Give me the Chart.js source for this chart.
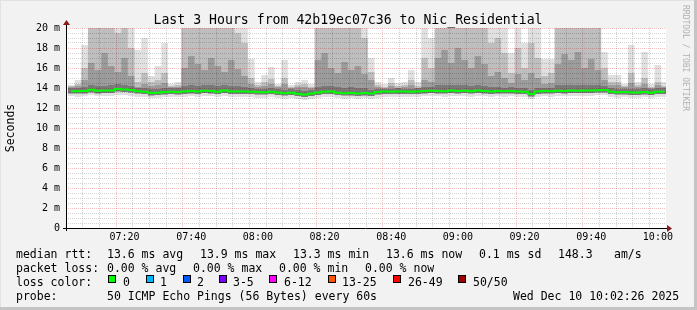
<!doctype html>
<html lang="en">
<head>
<meta charset="utf-8">
<title>Last 3 Hours from 42b19ec07c36 to Nic_Residential</title>
<script src="https://cdn.jsdelivr.net/npm/chart.js"></script>
<style>
html, body { margin: 0; padding: 0; background: #f2f2f2; }
canvas { display: block; }
</style>
</head>
<body>
<canvas id="myChart" width="697" height="310"></canvas>
<script>
// minutes after 07:00, one sample every 2 minutes
const times = [4,6,8,10,12,14,16,18,20,22,24,26,28,30,32,34,36,38,40,42,
  44,46,48,50,52,54,56,58,60,62,64,66,68,70,72,74,76,78,80,82,
  84,86,88,90,92,94,96,98,100,102,104,106,108,110,112,114,116,118,120,122,
  124,126,128,130,132,134,136,138,140,142,144,146,148,150,152,154,156,158,160,162,
  164,166,168,170,172,174,176,178,180,182];

// median rtt (ms)
const median = [13.68,13.68,13.70,13.82,13.72,13.74,13.76,13.90,13.84,13.80,
  13.68,13.62,13.50,13.52,13.60,13.62,13.60,13.66,13.70,13.66,
  13.72,13.70,13.62,13.74,13.66,13.64,13.66,13.62,13.60,13.58,
  13.62,13.55,13.48,13.52,13.42,13.34,13.44,13.56,13.62,13.64,
  13.52,13.48,13.50,13.46,13.50,13.44,13.60,13.64,13.62,13.66,
  13.64,13.62,13.66,13.70,13.72,13.70,13.68,13.74,13.70,13.72,
  13.68,13.74,13.70,13.66,13.70,13.68,13.70,13.66,13.62,13.40,
  13.66,13.70,13.68,13.72,13.70,13.74,13.72,13.76,13.74,13.78,
  13.80,13.62,13.58,13.60,13.54,13.56,13.60,13.52,13.62,13.62];

// smoke: ping distribution per sample (ms)
const pMin = [13.2,13.1,13.2,13.3,13.2,13.2,13.2,13.3,13.3,13.2,
  13.1,13.1,13.0,13.0,13.1,13.1,13.1,13.1,13.2,13.1,
  13.2,13.2,13.1,13.2,13.1,13.1,13.1,13.1,13.0,13.0,
  13.1,13.0,12.9,13.0,12.9,12.8,12.9,13.0,13.1,13.1,
  13.0,12.9,13.0,12.9,13.0,12.9,13.0,13.1,13.1,13.1,
  13.1,13.1,13.1,13.2,13.2,13.2,13.1,13.2,13.2,13.2,
  13.1,13.2,13.2,13.1,13.2,13.1,13.2,13.1,13.1,12.9,
  13.1,13.2,13.1,13.2,13.2,13.2,13.2,13.2,13.2,13.3,
  13.3,13.1,13.0,13.1,13.0,13.0,13.1,13.0,13.1,13.1];

const pLo = [13.45,13.45,13.45,13.55,13.45,13.5,13.5,13.65,13.6,13.55,
  13.45,13.4,13.25,13.3,13.35,13.4,13.35,13.4,13.45,13.4,
  13.5,13.45,13.4,13.5,13.4,13.4,13.4,13.4,13.35,13.35,
  13.4,13.3,13.25,13.3,13.2,13.1,13.2,13.3,13.4,13.4,
  13.3,13.25,13.25,13.2,13.25,13.2,13.35,13.4,13.4,13.4,
  13.4,13.4,13.4,13.45,13.5,13.45,13.45,13.5,13.45,13.5,
  13.45,13.5,13.45,13.4,13.45,13.45,13.45,13.4,13.4,13.15,
  13.4,13.45,13.45,13.5,13.45,13.5,13.5,13.5,13.5,13.55,
  13.55,13.4,13.35,13.35,13.3,13.3,13.35,13.3,13.4,13.4];

const pCore = [14.0,14.0,14.1,14.3,14.2,14.2,14.3,14.4,14.3,14.2,
  14.0,14.0,13.9,13.9,14.0,14.0,14.0,14.2,14.3,14.2,
  14.3,14.3,14.2,14.3,14.2,14.2,14.1,14.0,13.9,13.9,
  14.0,13.9,13.8,13.9,13.8,13.7,13.8,14.1,14.2,14.2,
  14.1,14.0,14.1,14.0,14.0,13.8,13.9,13.9,13.9,14.0,
  13.9,13.9,14.0,14.1,14.1,14.3,14.3,14.3,14.3,14.3,
  14.2,14.3,14.2,14.1,14.1,14.0,14.1,14.0,14.0,13.8,
  14.0,14.0,14.0,14.3,14.3,14.3,14.3,14.3,14.3,14.3,
  14.2,14.0,13.9,13.9,13.9,13.9,14.0,13.9,14.0,14.0];

const pMid = [14.1,14.2,14.8,16.5,15.8,17.5,16.2,15.6,17.0,15.2,
  14.1,14.4,14.2,14.3,14.5,14.1,14.1,16.0,17.2,16.4,
  15.8,17.0,16.2,15.6,16.8,15.9,15.2,14.4,14.1,14.2,
  14.4,14.1,14.4,14.0,14.1,14.1,14.0,16.8,17.5,16.0,
  15.5,16.6,15.8,16.2,15.4,14.8,14.1,14.0,14.2,14.0,
  14.1,14.3,14.0,14.8,14.6,17.0,17.8,16.5,18.0,16.8,
  16.0,17.2,16.4,15.2,15.6,15.0,14.5,15.4,14.8,15.5,
  15.0,14.4,14.5,16.4,17.4,16.8,17.6,16.0,16.9,15.8,
  14.8,14.3,14.3,14.1,14.5,14.1,14.4,14.0,14.3,14.1];

const pHi = [14.2,14.4,16.0,20.5,20.5,20.5,20.5,19.5,20.5,18.0,
  14.6,15.5,14.6,14.8,15.5,14.2,14.3,20.5,20.5,20.5,
  20.5,20.5,20.5,20.5,20.5,19.5,18.5,15.0,14.3,14.6,
  14.9,14.2,15.0,14.1,14.3,14.4,14.1,20.5,20.5,20.5,
  20.5,20.5,20.5,20.5,19.0,15.6,14.3,14.1,14.5,14.2,
  14.3,14.8,14.2,17.0,16.0,20.5,20.5,20.5,20.5,20.5,
  20.5,20.5,20.5,18.5,19.0,17.5,15.5,18.0,16.0,18.5,
  17.0,15.2,15.5,20.5,20.5,20.5,20.5,20.5,20.5,20.5,
  16.0,14.6,14.6,14.2,15.5,14.3,15.0,14.1,14.6,14.2];

const pMax = [14.3,14.8,18.3,20.5,20.5,20.5,20.5,20.5,20.5,20.5,
  17.8,19.0,15.2,16.2,18.5,14.4,14.6,20.5,20.5,20.5,
  20.5,20.5,20.5,20.5,20.5,20.5,20.5,16.9,14.6,15.3,
  16.1,14.4,16.8,14.3,14.6,14.8,14.4,20.5,20.5,20.5,
  20.5,20.5,20.5,20.5,20.5,17.0,14.6,14.4,15.0,14.5,
  14.6,15.8,14.6,20.5,19.0,20.5,20.5,20.5,20.5,20.5,
  20.5,20.5,20.5,20.5,20.5,20.5,17.5,20.5,18.5,20.5,
  20.5,16.9,16.9,20.5,20.5,20.5,20.5,20.5,20.5,20.5,
  17.6,15.3,15.3,14.4,18.3,14.6,17.6,14.4,16.3,14.6];

// axis
const xMinorTicks = [5,10,15,20,25,30,35,40,45,50,55,60,65,70,75,80,85,90,
  95,100,105,110,115,120,125,130,135,140,145,150,155,160,165,170,175,180];
const xMajorTicks = [20,40,60,80,100,120,140,160,180];
const xMajorLabels = ['07:20','07:40','08:00','08:20','08:40','09:00','09:20','09:40','10:00'];

// legend texts
const title = 'Last 3 Hours from 42b19ec07c36 to Nic_Residential';
const rttStats = ['13.6 ms avg','13.9 ms max','13.3 ms min','13.6 ms now','0.1 ms sd','148.3','am/s'];
const lossStats = ['0.00 % avg','0.00 % max','0.00 % min','0.00 % now'];
const lossLabels = ['0','1','2','3-5','6-12','13-25','26-49','50/50'];
const lossColors = ['#00ff00','#00b8ff','#0059ff','#7e00ff','#ff00ff','#ff5500','#ff0000','#a10000'];
const probeText = '50 ICMP Echo Pings (56 Bytes) every 60s';
const stamp = 'Wed Dec 10 10:02:26 2025';

const MONO = '"DejaVu Sans Mono", monospace';

function band(lo, hi) {
	return times.map(function(t, i){ return {x: t, y: [lo[i], hi[i]]}; });
}
function smoke(label, lo, hi, alpha) {
	return {
		type: 'bar', label: label, data: band(lo, hi),
		backgroundColor: 'rgba(0,0,0,' + alpha + ')',
		borderWidth: 0, inflateAmount: 0, grouped: false,
		barPercentage: 1, categoryPercentage: 1
	};
}

const decor = {
	id: 'decor',
	beforeDraw(chart) {
		const ctx = chart.ctx, a = chart.chartArea;
		ctx.save();
		ctx.fillStyle = '#f2f2f2';
		ctx.fillRect(0, 0, chart.width, chart.height);
		ctx.fillStyle = '#ffffff';
		ctx.fillRect(a.left, a.top, a.right - a.left, a.bottom - a.top);
		ctx.restore();
	},
	afterDraw(chart) {
		const ctx = chart.ctx, a = chart.chartArea;
		ctx.save();
		// title
		ctx.fillStyle = '#000';
		ctx.font = '13.2px ' + MONO;
		ctx.textAlign = 'center';
		ctx.textBaseline = 'alphabetic';
		ctx.fillText(title, 348, 24);

		// axes with arrows
		ctx.strokeStyle = '#000';
		ctx.lineWidth = 1;
		ctx.beginPath();
		ctx.moveTo(a.left - 3, a.bottom + 0.5); ctx.lineTo(a.right + 2, a.bottom + 0.5);
		ctx.moveTo(a.left + 0.5, a.bottom + 3); ctx.lineTo(a.left + 0.5, a.top - 3);
		ctx.stroke();
		ctx.fillStyle = '#8b1a1a';
		ctx.beginPath();
		ctx.moveTo(a.right + 1, a.bottom - 3); ctx.lineTo(a.right + 6, a.bottom + 0.5); ctx.lineTo(a.right + 1, a.bottom + 4);
		ctx.fill();
		ctx.beginPath();
		ctx.moveTo(a.left - 3, a.top - 3); ctx.lineTo(a.left + 0.5, a.top - 8); ctx.lineTo(a.left + 4, a.top - 3);
		ctx.fill();

		// legend
		ctx.fillStyle = '#000';
		ctx.font = '11.5px ' + MONO;
		ctx.textAlign = 'left';
		ctx.fillText('median rtt:', 16, 258);
		[107, 200, 293, 386, 479, 558, 614].forEach(function(x, i){ ctx.fillText(rttStats[i], x, 258); });
		ctx.fillText('packet loss:', 16, 272);
		[107, 193, 279, 365].forEach(function(x, i){ ctx.fillText(lossStats[i], x, 272); });
		ctx.fillText('loss color:', 16, 286);
		const boxX = [108, 146, 183, 219, 269, 328, 393, 458];
		const txtX = [123, 160, 197, 233, 284, 342, 408, 473];
		boxX.forEach(function(x, i){
			ctx.fillStyle = lossColors[i];
			ctx.fillRect(x, 275, 7, 7);
			ctx.strokeStyle = '#000';
			ctx.strokeRect(x + 0.5, 275.5, 7, 7);
			ctx.fillStyle = '#000';
			ctx.fillText(lossLabels[i], txtX[i], 286);
		});
		ctx.fillText('probe:', 16, 300);
		ctx.fillText(probeText, 107, 300);
		ctx.fillText(stamp, 513, 300);

		// watermark
		ctx.save();
		ctx.translate(685, 5);
		ctx.rotate(Math.PI / 2);
		ctx.font = '8px ' + MONO;
		ctx.fillStyle = '#b0b0b0';
		ctx.textBaseline = 'middle';
		ctx.fillText('RRDTOOL / TOBI OETIKER', 0, 0);
		ctx.restore();

		// frame
		ctx.fillStyle = '#c4c4c4';
		ctx.fillRect(0, chart.height - 3, chart.width, 3);
		ctx.fillRect(chart.width - 3, 0, 3, chart.height);
		ctx.fillStyle = '#e2e2e2';
		ctx.fillRect(0, 0, chart.width - 3, 1);
		ctx.fillRect(0, 0, 1, chart.height - 3);
		ctx.restore();
	}
};

const MAJOR = 'rgba(230,60,60,0.32)';
const MINOR = 'rgba(143,143,143,0.4)';

new Chart(document.getElementById('myChart'), {
	type: 'bar',
	data: {
		datasets: [
			{
				type: 'line', label: 'median rtt',
				data: times.map(function(t, i){ return {x: t, y: median[i]}; }),
				borderColor: '#00ff00', borderWidth: 2, pointRadius: 0,
				stepped: 'middle', fill: false
			},
			smoke('core', pLo, pCore, 0.22),
			smoke('mid', pLo, pMid, 0.18),
			smoke('hi', pLo, pHi, 0.15),
			smoke('max', pMin, pMax, 0.12)
		]
	},
	options: {
		responsive: false,
		animation: false,
		devicePixelRatio: 1,
		layout: { padding: { left: 0, top: 28, right: 31, bottom: 0 } },
		plugins: {
			legend: { display: false },
			tooltip: { enabled: false },
			title: { display: false }
		},
		scales: {
			x: {
				type: 'linear', min: 2.43, max: 182.43, offset: false,
				afterBuildTicks: function(axis){ axis.ticks = xMinorTicks.map(function(v){ return {value: v}; }); },
				afterFit: function(scale){ scale.height = 82; },
				ticks: {
					autoSkip: false, maxRotation: 0, padding: 3.5, color: '#000',
					font: { family: MONO, size: 10 },
					callback: function(v){ const k = xMajorTicks.indexOf(v); return k >= 0 ? xMajorLabels[k] : ''; }
				},
				grid: {
					drawTicks: false,
					color: function(c){ return c.tick && xMajorTicks.indexOf(c.tick.value) >= 0 ? MAJOR : MINOR; }
				},
				border: { display: false, dash: [1, 1] }
			},
			y: {
				min: 0, max: 20,
				afterFit: function(scale){ scale.width = 66; },
				ticks: {
					stepSize: 0.5, autoSkip: false, padding: 6, color: '#000',
					font: { family: MONO, size: 10 },
					callback: function(v){ if (v % 2 !== 0) return ''; return v === 0 ? '0' : v + ' m'; }
				},
				grid: {
					drawTicks: false,
					color: function(c){ return c.tick && c.tick.value % 2 === 0 ? MAJOR : MINOR; }
				},
				border: { display: false, dash: [1, 1] },
				title: {
					display: true, text: 'Seconds', color: '#000',
					font: { family: MONO, size: 11.5, lineHeight: 1 },
					padding: { top: 5, bottom: 0 }
				}
			}
		}
	},
	plugins: [decor]
});
</script>
</body>
</html>
